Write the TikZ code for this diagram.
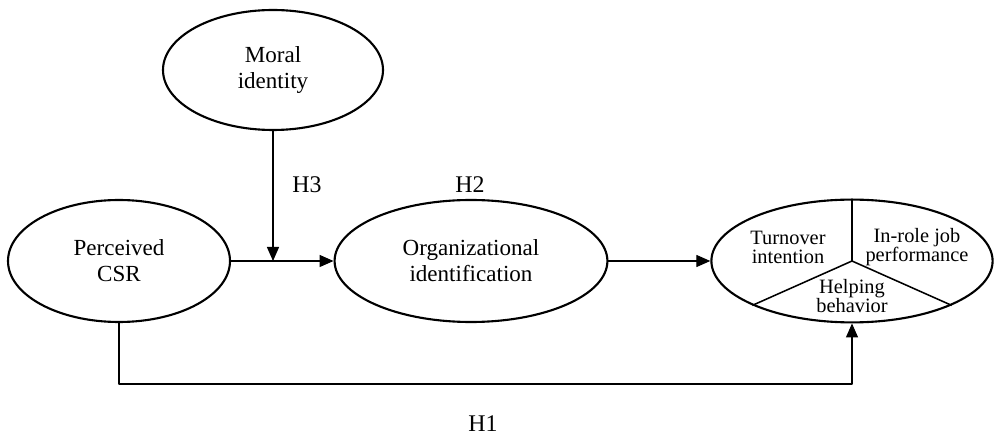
\documentclass[tikz,border=0pt]{standalone}
\usepackage{fontspec}
\setmainfont{Liberation Serif}
\usetikzlibrary{shapes.geometric,arrows.meta}
\tikzset{
  construct/.style={draw,ellipse,line width=1.5pt,inner sep=0pt,align=center,
    font=\fontsize{16.4}{18.5}\selectfont},
  hlabel/.style={font=\fontsize{17}{19}\selectfont},
  subtext/.style={align=center,inner sep=0pt,font=\fontsize{14.5}{13.5}\selectfont},
  path/.style={-{Triangle[length=0.35cm,width=0.3cm]},line width=0.9pt}
}
\begin{document}
\begin{tikzpicture}[line join=round]
			\useasboundingbox (0,0) rectangle (25,11.025);
			\node[construct,minimum width=5.5cm,minimum height=3cm] (moral) at (6.825,9.275) {Moral\\identity};
			\node[construct,minimum width=5.55cm,minimum height=3.05cm] (csr) at (2.975,4.5) {Perceived\\CSR};
			\node[construct,minimum width=6.82cm,minimum height=3.05cm] (orgid) at (11.775,4.5) {Organizational\\identification};
			\node[construct,minimum width=7.03cm,minimum height=3.07cm] (outcome) at (21.3,4.5) {};
			% split of the outcome ellipse
			\draw[line width=1.1pt] (outcome.north)--(outcome.center)--(outcome.204) (outcome.center)--(outcome.336);
			\node[subtext] (turn) at (19.7,4.85) {Turnover\\intention};
			\node[subtext] (inrole) at (22.925,4.85) {In-role job\\performance};
			\node[subtext] (help) at (21.3,3.62) {Helping\\behavior};
			% paths
			\coordinate (mod) at (moral.south |- csr.east);
			\draw[path] (csr.east)--(orgid.west);
			\draw[path] (moral.south)--(mod);
			\draw[path] (orgid.east)--(outcome.west);
			\draw[path] (csr.south)|-(12,1.425)-|(outcome.south);
			\node[hlabel] (h3) at (7.675,6.4) {H3};
			\node[hlabel] (h2) at (11.75,6.4) {H2};
			\node[hlabel] (h1) at (12.075,0.425) {H1};
		\end{tikzpicture}
\end{document}
